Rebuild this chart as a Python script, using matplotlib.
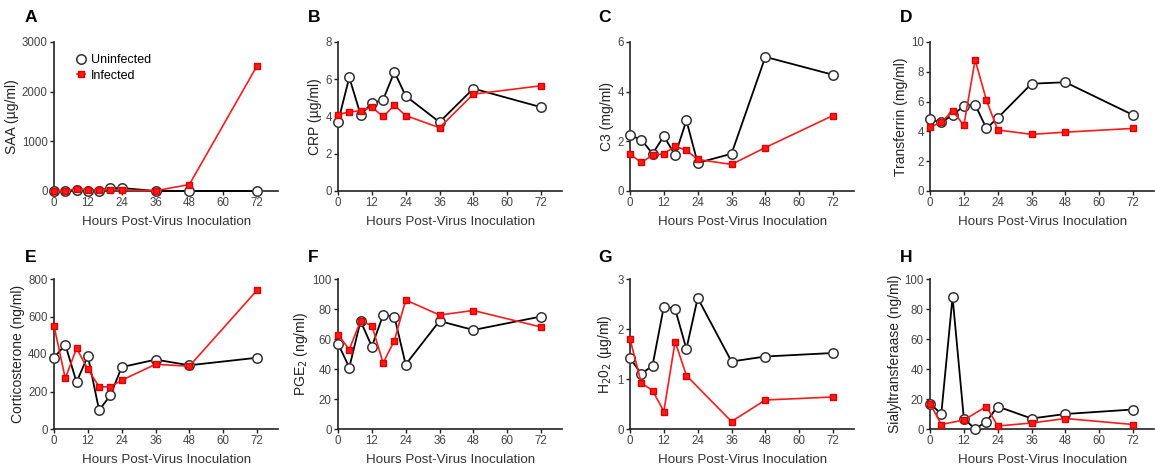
import numpy as np
import matplotlib
matplotlib.use("Agg")
import matplotlib.pyplot as plt

plt.rcParams['font.family'] = ['Liberation Sans', 'DejaVu Sans']

hours = [0, 4, 8, 12, 16, 20, 24, 36, 48, 72]

saa_uninf = [0, 0, 20, 10, 10, 60, 60, 0, 0, 0]
saa_inf = [5, 5, 40, 30, 20, 30, 20, 5, 130, 2520]

crp_uninf = [3.7, 6.1, 4.1, 4.7, 4.9, 6.4, 5.1, 3.7, 5.5, 4.5]
crp_inf = [4.1, 4.25, 4.3, 4.5, 4.0, 4.6, 4.05, 3.4, 5.2, 5.65]

c3_uninf = [2.24, 2.07, 1.5, 2.21, 1.44, 2.84, 1.13, 1.5, 5.4, 4.68]
c3_inf = [1.48, 1.15, 1.44, 1.5, 1.8, 1.64, 1.27, 1.07, 1.75, 3.04]

tf_uninf = [4.8, 4.6, 5.1, 5.7, 5.8, 4.2, 4.9, 7.2, 7.3, 5.1]
tf_inf = [4.3, 4.6, 5.4, 4.4, 8.8, 6.1, 4.1, 3.8, 3.95, 4.2]

cort_uninf = [380, 450, 250, 390, 100, 180, 330, 370, 340, 380]
cort_inf = [550, 270, 430, 320, 225, 225, 260, 345, 335, 740]

pge_uninf = [57, 41, 72, 55, 76, 75, 43, 72, 66, 75]
pge_inf = [63, 53, 72, 69, 44, 59, 86, 76, 79, 68]

h2o2_uninf = [1.42, 1.1, 1.27, 2.45, 2.4, 1.6, 2.62, 1.35, 1.45, 1.52]
h2o2_inf_hours = [0, 4, 8, 12, 16, 20, 36, 48, 72]
h2o2_inf = [1.8, 0.92, 0.77, 0.35, 1.75, 1.07, 0.15, 0.58, 0.64]

sial_uninf = [17, 10, 88, 7, 0, 5, 15, 7, 10, 13]
sial_inf_hours = [0, 4, 12, 20, 24, 36, 48, 72]
sial_inf = [17, 3, 6, 15, 2, 4, 7, 3]

x_ticks = [0, 12, 24, 36, 48, 60, 72]
xlabel = "Hours Post-Virus Inoculation"

panels = [
    dict(letter="A", ylabel="SAA (µg/ml)", yt=[0, 1000, 2000, 3000],
         ux=hours, u=saa_uninf, ix=hours, i=saa_inf),
    dict(letter="B", ylabel="CRP (µg/ml)", yt=[0, 2, 4, 6, 8],
         ux=hours, u=crp_uninf, ix=hours, i=crp_inf),
    dict(letter="C", ylabel="C3 (mg/ml)", yt=[0, 2, 4, 6],
         ux=hours, u=c3_uninf, ix=hours, i=c3_inf),
    dict(letter="D", ylabel="Transferrin (mg/ml)", yt=[0, 2, 4, 6, 8, 10],
         ux=hours, u=tf_uninf, ix=hours, i=tf_inf),
    dict(letter="E", ylabel="Corticosterone (ng/ml)", yt=[0, 200, 400, 600, 800],
         ux=hours, u=cort_uninf, ix=hours, i=cort_inf),
    dict(letter="F", ylabel="PGE$_2$ (ng/ml)", yt=[0, 20, 40, 60, 80, 100],
         ux=hours, u=pge_uninf, ix=hours, i=pge_inf),
    dict(letter="G", ylabel="H$_2$0$_2$ (µg/ml)", yt=[0, 1, 2, 3],
         ux=hours, u=h2o2_uninf, ix=h2o2_inf_hours, i=h2o2_inf),
    dict(letter="H", ylabel="Sialyltransferaase (ng/ml)", yt=[0, 20, 40, 60, 80, 100],
         ux=hours, u=sial_uninf, ix=sial_inf_hours, i=sial_inf),
]

W, H = 1155, 472
fig = plt.figure(figsize=(W / 100, H / 100), dpi=100)

# pixel layout: (x of hour 0, top y, bottom y)
left_px = [54, 338, 630, 930]
rows = [(42, 191), (279, 429)]
px_per_hour = 2.82
xmax = 79.5
ax_w = px_per_hour * xmax
letter_x = [25, 308, 598, 900]
letter_y = [18, 257]

for k, p in enumerate(panels):
    r, c = divmod(k, 4)
    top, bot = rows[r]
    ax = fig.add_axes([left_px[c] / W, 1 - bot / H, ax_w / W, (bot - top) / H])
    ax.plot(p["ux"], p["u"], color="black", lw=1.3, marker="o", ms=6.8,
            mfc="white", mec="#333333", mew=1.1, zorder=3, clip_on=False,
            label="Uninfected")
    ax.plot(p["ix"], p["i"], color="#ff1a1a", lw=1.2, marker="s", ms=4.5,
            mfc="#ff1a1a", mec="#e00000", zorder=4, clip_on=False,
            label="Infected")
    ax.set_xlim(0, xmax)
    ax.set_ylim(p["yt"][0], p["yt"][-1])
    ax.set_xticks(x_ticks)
    ax.set_yticks(p["yt"])
    for s in ["top", "right"]:
        ax.spines[s].set_visible(False)
    for s in ["left", "bottom"]:
        ax.spines[s].set_linewidth(1.2)
        ax.spines[s].set_color("#222222")
    ax.tick_params(direction="out", length=3, width=1.0, labelsize=8.3,
                   colors="#222222", labelcolor="#444444", pad=1.5)
    ax.set_xlabel(xlabel, fontsize=9.6, color="#333333", labelpad=5)
    ax.set_ylabel(p["ylabel"], fontsize=10, color="#222222", labelpad=2)
    fig.text(letter_x[c] / W, 1 - letter_y[r] / H, p["letter"], fontsize=12.5,
             fontweight="bold", va="center", ha="left")
    if k == 0:
        ax.legend(loc="upper left", bbox_to_anchor=(0.07, 0.97), frameon=False,
                  fontsize=9, handlelength=0.6, handletextpad=0.5,
                  borderaxespad=0.2, labelspacing=0.3)

fig.savefig("out.png", dpi=100)
